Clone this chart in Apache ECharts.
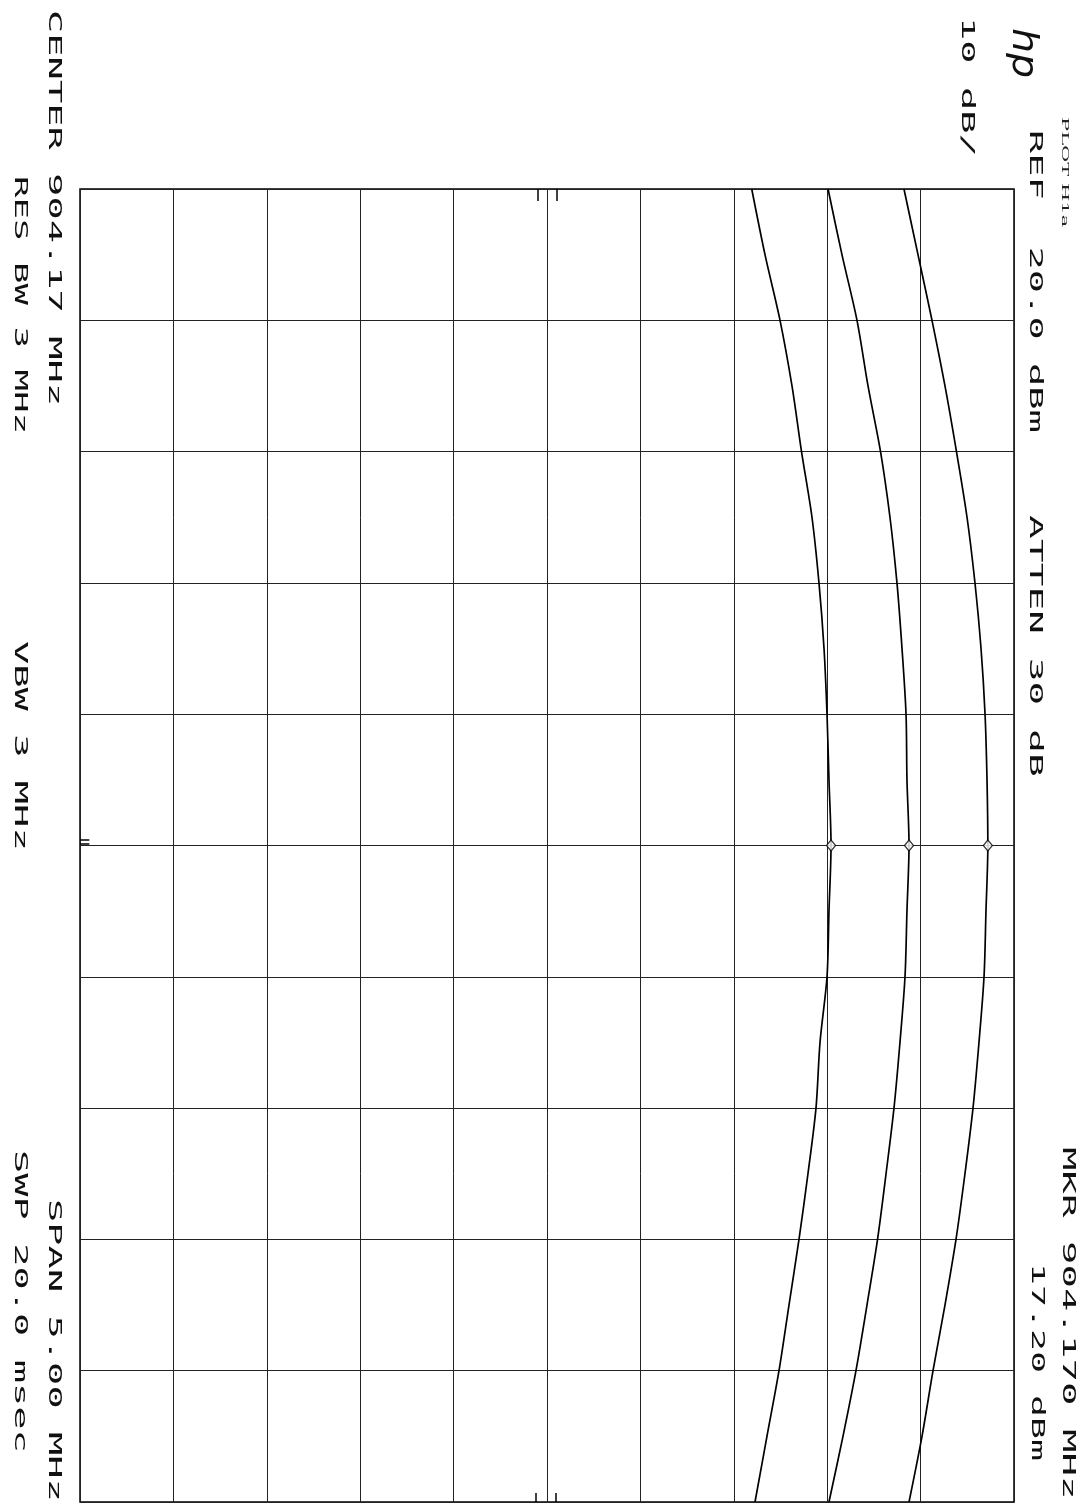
<!DOCTYPE html>
<html><head><meta charset="utf-8">
<script src="https://cdn.jsdelivr.net/npm/echarts@6/dist/echarts.min.js"></script>
<style>html,body{margin:0;padding:0;background:#fff}#c{width:1086px;height:1505px}</style>
</head><body><div id="c"></div>
<script>
// Frequency points (MHz), start 901.67 to stop 906.67 (span 5 MHz, center 904.17)
const FREQ_MHZ = [901.67, 901.92, 902.17, 902.42, 902.67, 902.92, 903.17, 903.42, 903.67, 903.92,
                  904.17, 904.42, 904.67, 904.92, 905.17, 905.42, 905.67, 905.92, 906.17, 906.42, 906.67];
const CENTER_MHZ = 904.17;
// Trace amplitudes (dBm)
const TRACE_LOW  = [-8.08, -6.66, -5.05, -3.77, -2.75, -1.63, -0.88, -0.34, -0.02, 0.19, 0.41,
                    0.19, -0.02, -0.77, -1.20, -2.06, -3.02, -4.09, -5.16, -6.45, -7.73];
const TRACE_MID  = [0.09, 1.58, 3.19, 4.37, 5.71, 6.72, 7.47, 8.01, 8.44, 8.54, 8.76,
                    8.54, 8.33, 7.79, 7.15, 6.30, 5.39, 4.26, 3.08, 1.69, 0.19];
const TRACE_HIGH = [8.22, 9.72, 11.22, 12.61, 13.84, 14.97, 15.82, 16.47, 16.90, 17.11, 17.20,
                    17.00, 16.79, 16.25, 15.61, 14.75, 13.79, 12.61, 11.33, 10.15, 8.76];
// Marker readings at 904.170 MHz
const MARKER_FREQ = 904.17;
const MARKER_DBM = [0.41, 8.76, 17.20];
// Amplitude scale: REF 20 dBm, 10 dB/div, 10 divisions
const REF_DBM = 20, DB_PER_DIV = 10, DIVS = 10;
const SPAN_MHZ = 5.0;

const off = f => +(f - CENTER_MHZ).toFixed(4);
const traceData = arr => FREQ_MHZ.map((f, i) => [arr[i], off(f)]);

const chart = echarts.init(document.getElementById('c'), null, {renderer: 'canvas'});

function mono(str, xc, y0, pitch, fs) {
  fs = fs || 18;
  return {
    type: 'text', x: xc, y: y0, rotation: -Math.PI / 2,
    scaleX: pitch / (0.602 * fs), scaleY: 1,
    style: {text: str, font: fs + 'px "DejaVu Sans Mono"', fill: '#111', align: 'left', verticalAlign: 'middle'}
  };
}

const lineStyle = {color: '#000', width: 1.7};
const axisCommon = {
  axisLine: {show: false}, axisTick: {show: false}, axisLabel: {show: false},
  splitLine: {show: true, lineStyle: {color: '#222', width: 1}}
};

chart.setOption({
  animation: false,
  backgroundColor: '#fff',
  grid: {left: 80, right: 72, top: 189, bottom: 3, show: true, borderColor: '#000', borderWidth: 1.5},
  xAxis: Object.assign({type: 'value', min: REF_DBM - DB_PER_DIV * DIVS, max: REF_DBM, interval: DB_PER_DIV}, axisCommon),
  yAxis: Object.assign({type: 'value', inverse: true, min: -SPAN_MHZ / 2, max: SPAN_MHZ / 2, interval: SPAN_MHZ / DIVS}, axisCommon),
  series: [
    {type: 'line', data: traceData(TRACE_LOW), showSymbol: false, smooth: 0.3, lineStyle: lineStyle, silent: true},
    {type: 'line', data: traceData(TRACE_MID), showSymbol: false, smooth: 0.3, lineStyle: lineStyle, silent: true},
    {type: 'line', data: traceData(TRACE_HIGH), showSymbol: false, smooth: 0.3, lineStyle: lineStyle, silent: true,
     markLine: {
       silent: true, symbol: 'none', animation: false, label: {show: false},
       lineStyle: {color: '#000', width: 1.5, type: 'solid'},
       data: [
         [{coord: [-31.0, -2.5]}, {coord: [-31.0, -2.454]}],
         [{coord: [-29.0, -2.5]}, {coord: [-29.0, -2.454]}],
         [{coord: [-31.2, 2.5]}, {coord: [-31.2, 2.466]}],
         [{coord: [-29.1, 2.5]}, {coord: [-29.1, 2.466]}],
         [{coord: [-80, -0.022]}, {coord: [-79.0, -0.022]}],
         [{coord: [-80, -0.008]}, {coord: [-79.0, -0.008]}]
       ]
     }},
    {type: 'scatter', data: MARKER_DBM.map(v => [v, off(MARKER_FREQ)]), symbol: 'diamond', symbolSize: [9, 11],
     itemStyle: {color: '#fff', borderColor: '#000', borderWidth: 1.3}, z: 5, silent: true}
  ],
  graphic: [
    mono('CENTER 904.17 MHz', 54, 10, 23.3),
    mono('RES BW 3 MHz', 20, 176, 21.5),
    mono('VBW 3 MHz', 20, 641, 23.3),
    mono('SPAN 5.00 MHz', 54, 1199, 23.3),
    mono('SWP 20.0 msec', 20, 1150, 23.3),
    mono('10 dB/', 967, 17, 23.3),
    mono('REF  20.0 dBm', 1035, 130, 23.3),
    mono('ATTEN 30 dB', 1035, 515, 23.8),
    mono('MKR 904.170 MHz', 1068, 1147, 23.5),
    mono('17.20 dBm', 1037, 1263, 22),
    {type: 'text', x: 1065, y: 117, rotation: -Math.PI / 2, scaleX: 2.1,
     style: {text: 'PLOT H1a', font: '10px "DejaVu Serif"', fill: '#222', align: 'left', verticalAlign: 'middle'}},
    {type: 'text', x: 1022, y: 28, rotation: -Math.PI / 2, scaleX: 1.1,
     style: {text: 'hp', font: 'italic 36px "DejaVu Sans"', fill: '#111', align: 'left', verticalAlign: 'middle'}}
  ]
});
</script>
</body></html>
